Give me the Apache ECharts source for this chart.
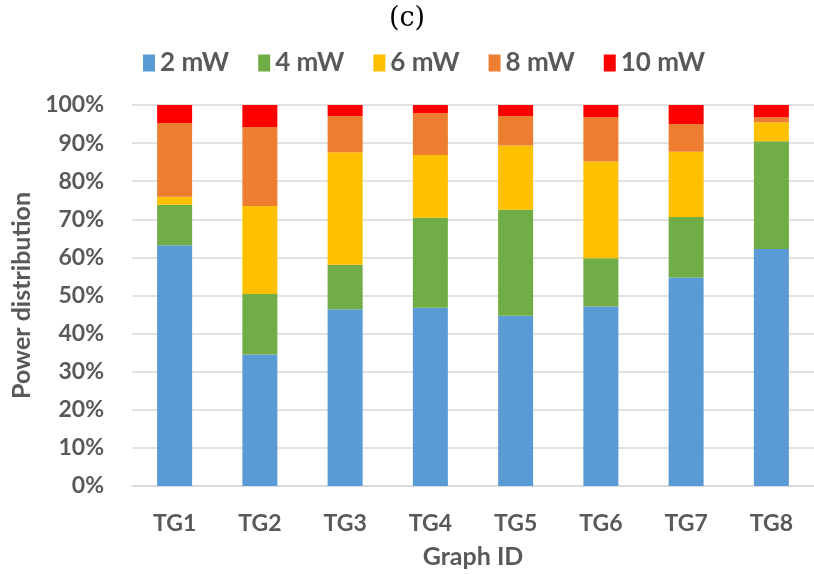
<!DOCTYPE html>
<html>
<head>
<meta charset="utf-8">
<script src="https://cdn.jsdelivr.net/npm/echarts@6/dist/echarts.min.js"></script>
<style>html,body{margin:0;padding:0;background:#fff}#c{width:814px;height:574px}</style>
</head>
<body>
<div id="c"></div>
<script>
const categories = ['TG1','TG2','TG3','TG4','TG5','TG6','TG7','TG8'];
const seriesNames = ['2 mW','4 mW','6 mW','8 mW','10 mW'];
const p2  = [63.2, 34.5, 46.4, 46.8, 44.7, 47.1, 54.7, 62.2];
const p4  = [10.6, 15.9, 11.7, 23.6, 27.8, 12.7, 15.9, 28.3];
const p6  = [2.1, 23.1, 29.5, 16.5, 16.9, 25.4, 17.1, 5.0];
const p8  = [19.4, 20.7, 9.5, 11.0, 7.7, 11.6, 7.3, 1.3];
const p10 = [4.7, 5.8, 2.9, 2.1, 2.9, 3.2, 5.0, 3.2];
const yTicks = [0,10,20,30,40,50,60,70,80,90,100];
const colors = ['#5B9BD5','#70AD47','#FFC000','#ED7D31','#FF0000'];
const values = [p2,p4,p6,p8,p10];

const font = 'Lato';
const txt = {fontFamily: font, fontWeight: 'bold', fontSize: 23, color: '#595959'};
const nameTxt = Object.assign({}, txt, {fontSize: 25});
const chart = echarts.init(document.getElementById('c'), null, {renderer:'canvas'});
chart.setOption({
  animation: false,
  title: {text: '(c)', left: 'center', top: 0, textStyle: {fontFamily: 'DejaVu Serif', fontWeight: 'normal', fontSize: 27, color: '#000'}},
  legend: {
    data: seriesNames, left: 138, top: 45, itemWidth: 12, itemHeight: 17, itemGap: 29,
    icon: 'rect', textStyle: Object.assign({}, txt, {fontSize: 26})
  },
  grid: {left: 132, top: 105, width: 697, bottom: 88, containLabel: false},
  xAxis: {
    type: 'category', data: categories,
    name: 'Graph ID', nameLocation: 'middle', nameGap: 58, nameTextStyle: nameTxt,
    axisLine: {lineStyle: {color: '#d9d9d9', width: 1.5}},
    axisTick: {show: false},
    axisLabel: Object.assign({margin: 26}, txt)
  },
  yAxis: {
    type: 'value', min: 0, max: 100, interval: 10,
    name: 'Power distribution', nameLocation: 'middle', nameGap: 96, nameTextStyle: nameTxt,
    axisLine: {show: false}, axisTick: {show: false},
    splitLine: {lineStyle: {color: '#d9d9d9', width: 1.5}},
    axisLabel: Object.assign({margin: 28, formatter: v => yTicks.includes(v) ? v + '%' : ''}, txt)
  },
  series: seriesNames.map((n, i) => ({
    name: n, type: 'bar', stack: 'all', barWidth: 35,
    itemStyle: {color: colors[i]},
    data: values[i]
  }))
});
</script>
</body>
</html>
